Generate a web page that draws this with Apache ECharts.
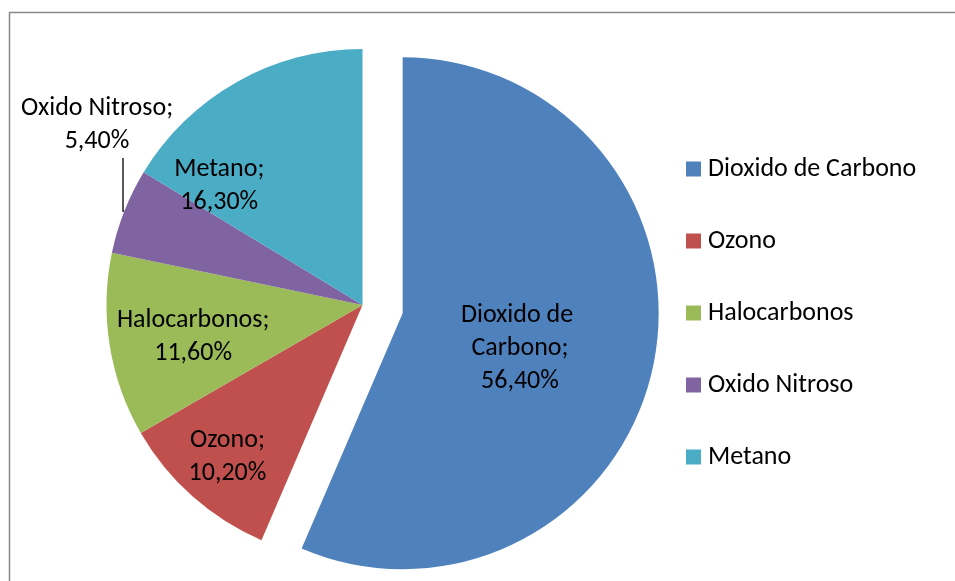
<!DOCTYPE html>
<html lang="es">
<head>
<meta charset="UTF-8">
<title>Gases de efecto invernadero</title>
<script src="https://cdn.jsdelivr.net/npm/echarts@6/dist/echarts.min.js"></script>
<style>
    html, body { margin: 0; padding: 0; background: #fff; }
    #chart { width: 955px; height: 581px; }
</style>
</head>
<body>
<div id="chart"></div>
<script>
    var categories = ['Dioxido de Carbono', 'Ozono', 'Halocarbonos', 'Oxido Nitroso', 'Metano'];
    var values = [56.4, 10.2, 11.6, 5.4, 16.3];
    var colors = ['#4F81BD', '#C0504D', '#9BBB59', '#8064A2', '#4BACC6'];

    // excel pushes the labels away from the half radius spot echarts uses
    var labelShift = [[-11, 9], [-48, 54], [-40, 11], [0, 0], [-79, -5]];
    var font = 'Carlito, Calibri, Lato, sans-serif';

    var pieData = categories.map(function (name, i) {
        var item = {name: name, value: values[i], itemStyle: {color: colors[i]}};
        if (i === 0) {
            item.selected = true;
            item.label = {width: 140, overflow: 'break'};
        }
        if (i === 3) {
            // fixed width so the pie layout does not truncate it,
            // right padding moves the box centre over the leader line
            item.label = {position: 'outside', width: 160, padding: [0, 52, 0, 0]};
            item.labelLine = {show: true, length2: 55};
        }
        return item;
    });

    var chart = echarts.init(document.getElementById('chart'));
    chart.setOption({
        animation: false,
        backgroundColor: '#fff',
        graphic: [{
            type: 'rect',
            shape: {x: 9.5, y: 12.5, width: 1200, height: 1200},
            style: {fill: null, stroke: '#888', lineWidth: 1.5},
            silent: true
        }],
        legend: {
            orient: 'vertical',
            left: 681,
            top: 151,
            icon: 'rect',
            itemWidth: 15,
            itemHeight: 15,
            itemGap: 46,
            selectedMode: false,
            textStyle: {fontFamily: font, fontSize: 26, lineHeight: 26, color: '#000', padding: [0, 0, 0, 2]},
            data: categories
        },
        series: [{
            type: 'pie',
            center: [362.5, 305],
            radius: 256,
            startAngle: 90,
            clockwise: true,
            selectedMode: 'single',
            selectedOffset: 41,
            emphasis: {disabled: true},
            itemStyle: {borderWidth: 0},
            label: {
                position: 'inside',
                color: '#000',
                fontFamily: font,
                fontSize: 26,
                lineHeight: 33,
                align: 'center',
                formatter: function (p) {
                    return p.name + ';\n' + p.value.toFixed(2).replace('.', ',') + '%';
                }
            },
            labelLine: {show: true, lineStyle: {color: '#000', width: 1.3}},
            labelLayout: function (p) {
                if (p.dataIndex === 3) {
                    return {x: 123, y: 125, align: 'center', verticalAlign: 'middle'};
                }
                var s = labelShift[p.dataIndex];
                return {dx: s[0], dy: s[1]};
            },
            data: pieData
        }]
    });
</script>
</body>
</html>
